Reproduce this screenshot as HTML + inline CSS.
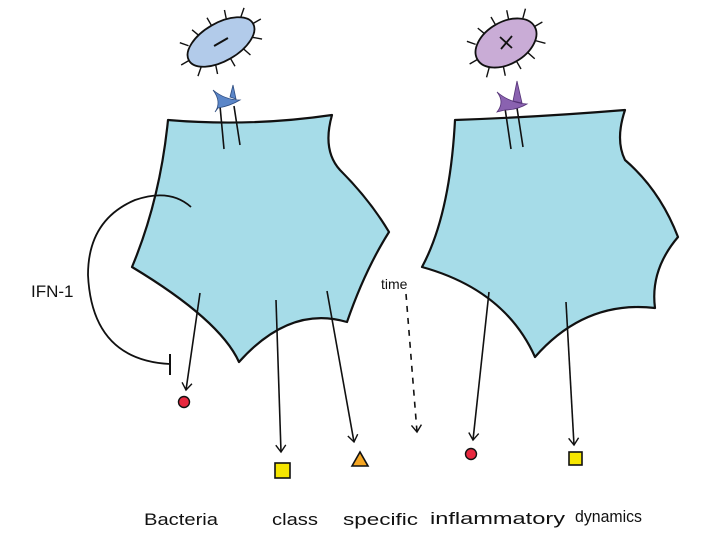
<!DOCTYPE html>
<html><head><style>
html,body{margin:0;padding:0;background:#fff;}
svg{display:block}
text{font-family:"Liberation Sans",sans-serif;fill:#111}
</style></head><body>
<svg width="720" height="540" viewBox="0 0 720 540" xmlns="http://www.w3.org/2000/svg">
<defs>
<marker id="ah" markerWidth="12" markerHeight="12" refX="10" refY="6" orient="auto" markerUnits="userSpaceOnUse">
<path d="M3,1 L10,6 L3,11" fill="none" stroke="#111" stroke-width="1.4"/>
</marker>
</defs>
<!-- left cell -->
<path d="M168,120 Q250,127 332,115 Q322,150 340,170 Q370,200 389,232 Q365,270 347,322 Q290,305 239,362 Q220,320 132,267 Q160,200 168,120 Z" fill="#a6dce8" stroke="#111" stroke-width="2.2" stroke-linejoin="round"/>
<!-- right cell -->
<path d="M455,120 Q540,117 625,110 Q615,140 625,160 Q660,190 678,237 Q650,270 655,308 Q585,300 535,357 Q505,290 422,267 Q450,215 455,120 Z" fill="#a6dce8" stroke="#111" stroke-width="2.2" stroke-linejoin="round"/>
<!-- receptors stems -->
<g stroke="#111" stroke-width="1.6">
<line x1="220" y1="106" x2="224" y2="149"/><line x1="234" y1="106" x2="240" y2="145"/>
<line x1="505" y1="108" x2="511" y2="149"/><line x1="517" y1="108" x2="523" y2="147"/>
</g>
<path d="M213,90 Q225,100 240,100 Q230,106 218,108 L215,112 Q222,102 213,90 Z M230,97 L233,85 L236,99 Z" fill="#5b86c8" stroke="#2d4c80" stroke-width="0.8"/>
<path d="M497,92 Q510,103 527,104 Q517,110 505,110 L497,112 Q505,102 497,92 Z M513,101 L517,81 L522,103 Z" fill="#8a62b0" stroke="#553377" stroke-width="0.8"/>
<!-- bacteria -->
<g transform="translate(221,42) rotate(-30)">
<g stroke="#111" stroke-width="1.4">
<line x1="-30" y1="-13" x2="-36" y2="-20"/><line x1="-16" y1="-17" x2="-19" y2="-25"/><line x1="0" y1="-19" x2="0" y2="-28"/><line x1="16" y1="-17" x2="19" y2="-26"/><line x1="30" y1="-12" x2="37" y2="-18"/><line x1="37" y1="0" x2="46" y2="0"/><line x1="30" y1="12" x2="37" y2="18"/><line x1="16" y1="17" x2="19" y2="26"/><line x1="0" y1="19" x2="0" y2="28"/><line x1="-16" y1="17" x2="-19" y2="26"/><line x1="-30" y1="12" x2="-37" y2="18"/><line x1="-37" y1="0" x2="-46" y2="0"/>
</g>
<ellipse cx="0" cy="0" rx="37" ry="19" fill="#b2cbea" stroke="#111" stroke-width="1.8"/>
<line x1="-8" y1="0" x2="8" y2="0" stroke="#111" stroke-width="2"/>
</g>
<g transform="translate(506,43) rotate(-30)">
<g stroke="#111" stroke-width="1.4">
<line x1="-27" y1="-14" x2="-33" y2="-21"/><line x1="-14" y1="-19" x2="-17" y2="-27"/><line x1="0" y1="-21" x2="0" y2="-30"/><line x1="14" y1="-19" x2="17" y2="-28"/><line x1="27" y1="-13" x2="34" y2="-20"/><line x1="33" y1="0" x2="42" y2="0"/><line x1="27" y1="13" x2="34" y2="20"/><line x1="14" y1="19" x2="17" y2="28"/><line x1="0" y1="21" x2="0" y2="30"/><line x1="-14" y1="19" x2="-17" y2="28"/><line x1="-27" y1="13" x2="-34" y2="20"/><line x1="-33" y1="0" x2="-42" y2="0"/>
</g>
<ellipse cx="0" cy="0" rx="33" ry="21" fill="#c9acd6" stroke="#111" stroke-width="1.8"/>
</g>
<path d="M500,37 L512,48 M512,36 L501,49" stroke="#111" stroke-width="1.8"/>
<!-- inhibition arc -->
<path d="M191,207 Q170,188 135,200 Q88,220 88,275 Q92,360 170,364" fill="none" stroke="#111" stroke-width="1.8"/>
<line x1="170" y1="354" x2="170" y2="375" stroke="#111" stroke-width="2"/>
<text x="31" y="297" font-size="17">IFN-1</text>
<!-- arrows -->
<g stroke="#111" stroke-width="1.6" fill="none" marker-end="url(#ah)">
<line x1="200" y1="293" x2="186" y2="390"/>
<line x1="276" y1="300" x2="281" y2="452"/>
<line x1="327" y1="291" x2="354" y2="442"/>
<line x1="489" y1="292" x2="473" y2="440"/>
<line x1="566" y1="302" x2="574" y2="445"/>
<line x1="406" y1="294" x2="417" y2="432" stroke-dasharray="6,6"/>
</g>
<text x="381" y="289" font-size="14">time</text>
<!-- products -->
<circle cx="184" cy="402" r="5.5" fill="#e8283f" stroke="#111" stroke-width="1.4"/>
<rect x="275" y="463" width="15" height="15" fill="#f6e600" stroke="#111" stroke-width="1.6"/>
<path d="M352,466 L360,452 L368,466 Z" fill="#f5a623" stroke="#111" stroke-width="1.6"/>
<circle cx="471" cy="454" r="5.5" fill="#e8283f" stroke="#111" stroke-width="1.4"/>
<rect x="569" y="452" width="13" height="13" fill="#f6e600" stroke="#111" stroke-width="1.6"/>
<!-- caption -->
<g font-size="17">
<text x="144" y="525" textLength="74" lengthAdjust="spacingAndGlyphs">Bacteria</text>
<text x="272" y="525" textLength="46" lengthAdjust="spacingAndGlyphs">class</text>
<text x="343" y="525" textLength="75" lengthAdjust="spacingAndGlyphs">specific</text>
<text x="430" y="524" textLength="135" lengthAdjust="spacingAndGlyphs">inflammatory</text>
<text x="575" y="522" textLength="67" lengthAdjust="spacingAndGlyphs">dynamics</text>
</g>
</svg>
</body></html>
